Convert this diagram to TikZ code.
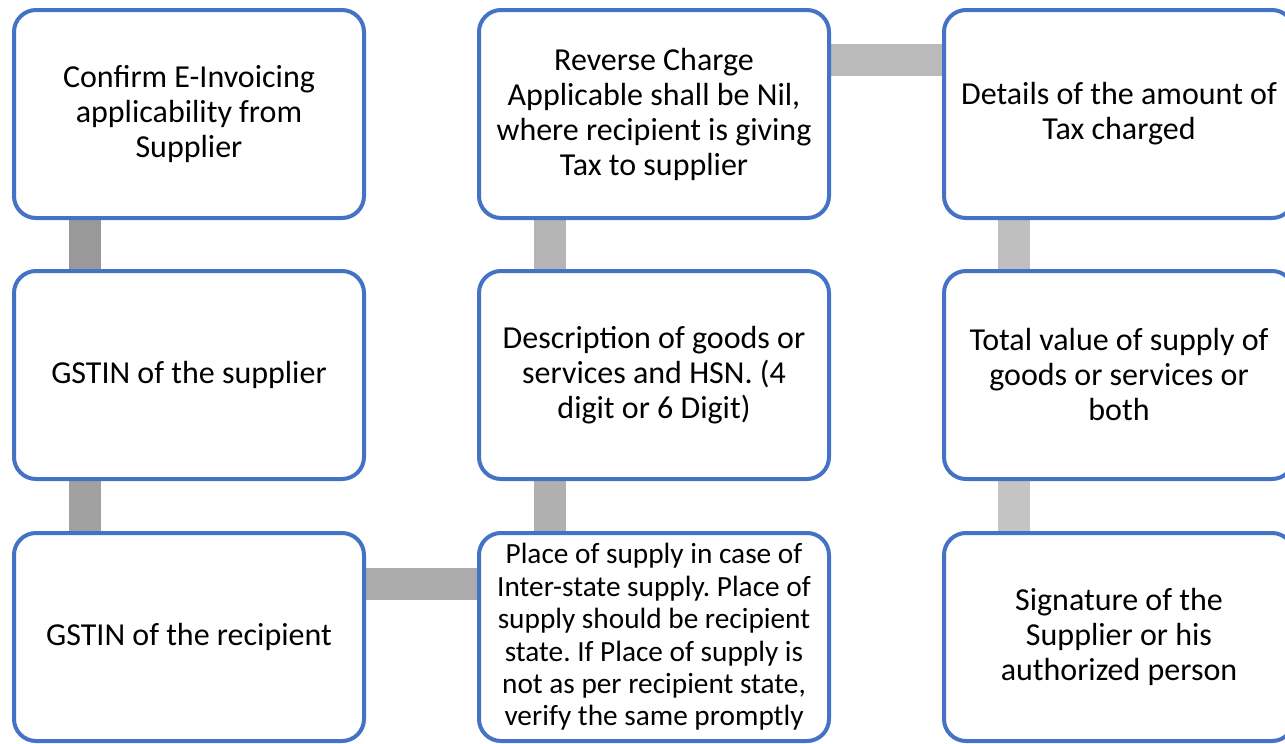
\documentclass[tikz,border=0pt]{standalone}
\usepackage{fontspec}
\setmainfont{Carlito}
\usetikzlibrary{backgrounds}
\frenchspacing
\definecolor{boxblue}{HTML}{4472C4}
\tikzset{
  stepbox/.style={draw=boxblue, line width=4pt, fill=white, rounded corners=22pt,
    minimum width=350pt, minimum height=208pt, inner sep=0pt, align=center,
    font=\fontsize{32}{35}\selectfont, text=black},
  smallfont/.style={font=\fontsize{29.3}{32.4}\selectfont},
  link/.style={line width=32pt, draw=#1}
}
\begin{document}
\begin{tikzpicture}[x=1pt,y=-1pt]
\useasboundingbox (0,0) rectangle (1285,744);
\clip (0,0) rectangle (1285,744);

% boxes, column by column
\node[stepbox] (c1) at (189,114) {Confirm E-Invoicing\\applicability from\\Supplier};
\node[stepbox] (g1) at (189,375) {GSTIN of the supplier};
\node[stepbox] (g2) at (189,637) {GSTIN of the recipient};
\node[stepbox, smallfont] (pos) at (654,637) {Place of supply in case of\\Inter-state supply. Place of\\supply should be recipient\\state. If Place of supply is\\not as per recipient state,\\verify the same promptly};
\node[stepbox] (desc) at (654,375) {Description of goods or\\services and HSN. (4\\digit or 6 Digit)};
\node[stepbox] (rc) at (654,114) {Reverse Charge\\Applicable shall be Nil,\\where recipient is giving\\Tax to supplier};
\node[stepbox] (tax) at (1119,114) {Details of the amount of\\Tax charged};
\node[stepbox] (tot) at (1119,375) {Total value of supply of\\goods or services or\\both};
\node[stepbox] (sig) at (1119,637) {Signature of the\\Supplier or his\\authorized person};

% grey links between consecutive steps, lightening along the path
\begin{scope}[on background layer]
\draw[link=black!40] ([xshift=-104pt]c1.south) -- ([xshift=-104pt]g1.north);
\draw[link=black!37] ([xshift=-104pt]g1.south) -- ([xshift=-104pt]g2.north);
\draw[link=black!33] ([yshift=53pt]g2.east) -- ([yshift=53pt]pos.west);
\draw[link=black!31] ([xshift=-104pt]pos.north) -- ([xshift=-104pt]desc.south);
\draw[link=black!29] ([xshift=-104pt]desc.north) -- ([xshift=-104pt]rc.south);
\draw[link=black!27] ([yshift=54pt]rc.east) -- ([yshift=54pt]tax.west);
\draw[link=black!25] ([xshift=-105pt]tax.south) -- ([xshift=-105pt]tot.north);
\draw[link=black!23] ([xshift=-105pt]tot.south) -- ([xshift=-105pt]sig.north);
\end{scope}
\end{tikzpicture}
\end{document}
